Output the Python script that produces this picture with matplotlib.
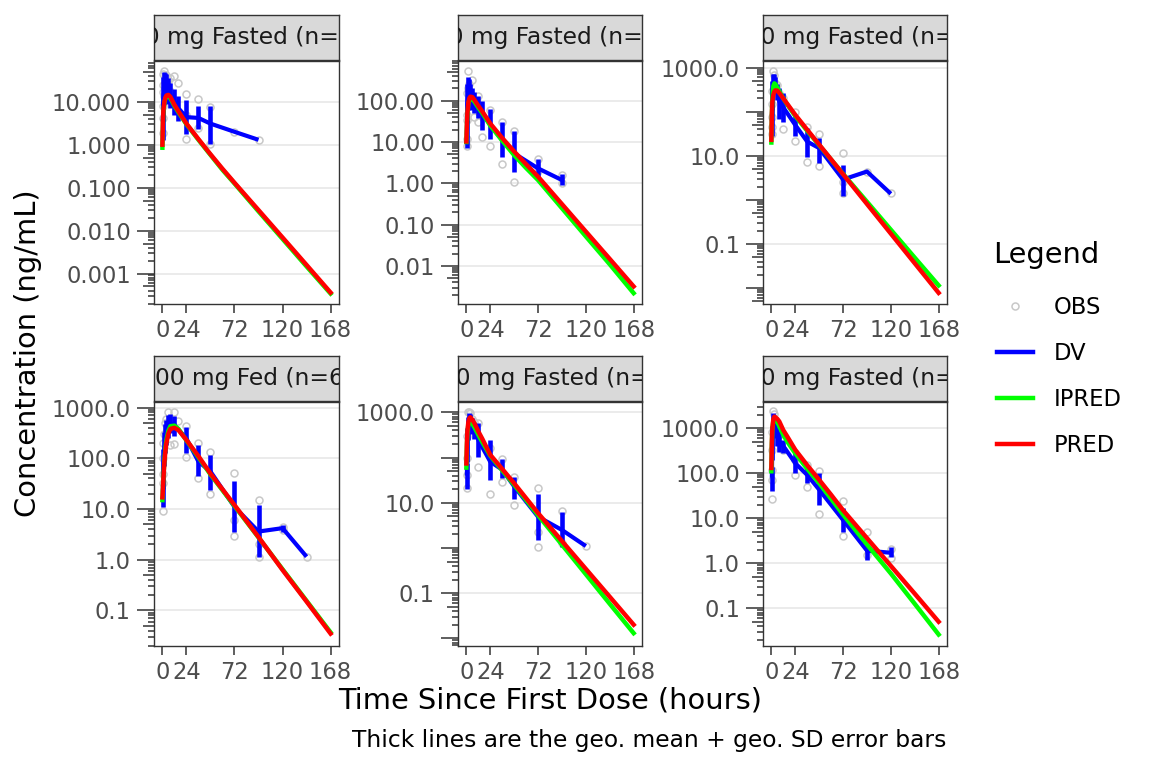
import numpy as np
import matplotlib.pyplot as plt
from matplotlib.lines import Line2D
from matplotlib.ticker import FixedLocator, FixedFormatter, NullLocator

# ---- data ----
panel_labels = ["10 mg Fasted (n=6)", "50 mg Fasted (n=6)", "100 mg Fasted (n=6)",
                "200 mg Fed (n=6)", "200 mg Fasted (n=6)", "400 mg Fasted (n=6)"]

# observed concentrations (grey circles)
obs_time = [
    [0.5, 0.5, 0.5, 1, 1, 1, 2, 2, 3, 4, 6, 8, 8, 12, 12, 16, 16, 24, 24, 24, 36, 36, 48, 48, 72, 96],
    [0.5, 0.5, 0.5, 1, 1, 2, 2, 3, 4, 6, 8, 8, 12, 12, 16, 24, 24, 36, 36, 48, 48, 72, 72, 96, 96],
    [0.5, 0.5, 0.5, 0.5, 1, 2, 3, 4, 6, 8, 12, 12, 24, 24, 36, 36, 48, 48, 72, 72, 72, 96, 120],
    [0.5, 0.5, 0.5, 1, 1, 2, 3, 4, 6, 8, 12, 12, 16, 24, 24, 36, 36, 48, 48, 72, 72, 72, 96, 96, 96, 120, 120, 144],
    [0.5, 0.5, 0.5, 1, 2, 3, 4, 6, 8, 12, 12, 24, 24, 36, 36, 48, 48, 72, 72, 72, 96, 96, 120],
    [0.5, 0.5, 0.5, 1, 1, 2, 3, 4, 6, 8, 12, 24, 24, 36, 36, 48, 48, 72, 72, 96, 96, 120, 120],
]
obs_conc = [
    [1.9, 4.1, 17, 8, 25, 45, 52, 14, 40, 43, 30, 35, 18, 40, 9, 28, 6, 15, 5, 1.33, 11.7, 2.5, 7.4, 1.05, 2.0, 1.3],
    [8, 12, 35, 45, 150, 520, 200, 260, 150, 316, 104, 40, 130, 31, 13.5, 60, 8.1, 30, 3.0, 18, 1.1, 3.8, 2.0, 1.6, 1.0],
    [32, 45, 77, 150, 300, 840, 680, 440, 400, 263, 41, 200, 100, 22, 44, 7.2, 31, 5.8, 11.5, 1.4, 2.5, 4.4, 1.4],
    [9, 32, 50, 100, 200, 300, 500, 600, 830, 183, 800, 190, 545, 435, 105, 200, 41, 135, 20, 52, 2.9, 6, 15, 1.15, 2, 4.5, 3.9, 1.15],
    [21, 41, 100, 300, 1000, 1030, 950, 700, 600, 590, 63, 160, 15.8, 91, 29, 38, 8.9, 21, 2.3, 1.05, 6.7, 1.26, 1.1],
    [27, 71, 120, 330, 800, 2350, 2100, 1500, 1000, 700, 330, 91, 200, 50, 150, 110, 12.3, 24, 4.0, 4.8, 1.5, 1.3, 2.1],
]

# geometric mean of DV with geo. SD error bar limits (nan = single value, no bar)
nan = np.nan
dv_time = [
    [0.5, 1, 2, 3, 4, 6, 8, 12, 16, 24, 36, 48, 72, 96],
    [0.5, 1, 2, 3, 4, 6, 8, 12, 16, 24, 36, 48, 72, 96],
    [0.5, 1, 2, 3, 4, 6, 8, 12, 24, 36, 48, 72, 96, 120],
    [0.5, 1, 2, 3, 4, 6, 8, 12, 24, 36, 48, 72, 96, 120, 144],
    [0.5, 1, 2, 3, 4, 6, 8, 12, 24, 36, 48, 72, 96, 120],
    [0.5, 1, 2, 3, 4, 6, 8, 12, 24, 36, 48, 72, 96, 120],
]
dv_mean = [
    [3.5, 12, 22, 24, 22, 18, 14, 10, 7, 4.4, 4.2, 3.1, 2.0, 1.3],
    [15, 80, 150, 160, 140, 110, 90, 70, 50, 26, 11, 5.3, 2.3, 1.2],
    [60, 250, 450, 500, 420, 280, 170, 125, 50, 21, 15, 2.9, 4.4, 1.38],
    [22, 60, 150, 260, 330, 420, 480, 450, 245, 86, 55, 11, 3.6, 4.2, 1.15],
    [40, 200, 500, 750, 700, 550, 420, 245, 81, 54, 23, 4.9, 2.5, 1.1],
    [80, 500, 1500, 1400, 1000, 700, 500, 400, 166, 91, 43, 9.1, 1.9, 1.7],
]
dv_low = [
    [1.3, 3.5, 9, 11, 10, 9, 7, 5, 3.6, 1.8, 2.3, 1.05, nan, nan],
    [7, 30, 60, 80, 75, 60, 50, 38, 20, 12, 4.4, 1.9, 1.45, 0.9],
    [28, 110, 280, 330, 290, 180, 70, 60, 28, 9.5, 6.8, 1.23, nan, nan],
    [11, 25, 70, 130, 180, 250, 320, 280, 126, 44, 24, 3.5, 1.15, 3.5, nan],
    [20, 80, 250, 450, 450, 330, 260, 105, 32, 35, 12, 1.5, 1.05, nan],
    [40, 200, 900, 800, 600, 400, 300, 280, 100, 60, 20, 5.0, 1.17, 1.35],
]
dv_high = [
    [10, 38, 50, 48, 45, 36, 28, 20, 14, 11, 7.8, 8.0, nan, nan],
    [35, 250, 380, 330, 260, 200, 160, 130, 100, 62, 31, 18, 3.8, 1.7],
    [150, 500, 700, 700, 600, 420, 340, 260, 85, 43, 25, 6.3, nan, nan],
    [40, 150, 330, 480, 560, 700, 750, 680, 407, 182, 117, 35, 12, 4.8, nan],
    [75, 450, 800, 950, 900, 750, 600, 575, 245, 95, 38, 15.5, 6.3, nan],
    [140, 1100, 2200, 2000, 1600, 1000, 850, 550, 275, 150, 100, 16.6, 2.5, 2.24],
]

# model predictions
pred_time = [0, 0.5, 1, 2, 3, 4, 6, 8, 12, 16, 24, 36, 48, 60, 72, 96, 120, 144, 168]
ipred_conc = [
    [0.85, 3.0, 6.0, 9.5, 12, 13, 13.5, 12, 8.0, 5.7, 3.0, 1.3, 0.58, 0.26, 0.125, 0.028, 0.0064, 0.00146, 0.00034],
    [10, 22, 45, 85, 105, 112, 108, 95, 68, 50, 25, 10.8, 4.8, 2.35, 1.2, 0.25, 0.052, 0.011, 0.0022],
    [20, 80, 200, 380, 440, 420, 350, 290, 200, 145, 80, 37, 17.5, 8.2, 3.9, 0.91, 0.211, 0.049, 0.0115],
    [15, 25, 42, 95, 160, 230, 350, 430, 440, 380, 225, 105, 48, 23.5, 11.5, 2.75, 0.65, 0.155, 0.037],
    [60, 170, 330, 540, 610, 620, 560, 470, 320, 220, 110, 52, 25, 11.5, 5.3, 1.18, 0.262, 0.058, 0.013],
    [110, 450, 950, 1500, 1650, 1600, 1350, 1100, 700, 500, 275, 125, 60, 27, 12, 2.6, 0.59, 0.125, 0.026],
]
pred_conc = [
    [1.0, 3.5, 6.5, 10, 12.5, 14, 14.5, 13, 8.5, 6.0, 3.1, 1.35, 0.6, 0.275, 0.13, 0.03, 0.0069, 0.00158, 0.00036],
    [10.3, 25, 50, 90, 115, 125, 122, 105, 75, 55, 28, 12.5, 5.9, 2.9, 1.45, 0.314, 0.068, 0.0148, 0.0032],
    [23, 90, 170, 240, 285, 305, 300, 265, 200, 150, 85, 39, 18, 8.3, 3.83, 0.81, 0.172, 0.0366, 0.0078],
    [17, 25, 40, 85, 140, 200, 310, 380, 400, 360, 230, 110, 50, 24.5, 12, 2.8, 0.63, 0.15, 0.035],
    [74, 200, 380, 620, 740, 780, 690, 580, 380, 260, 115, 56, 27, 12.6, 5.9, 1.42, 0.343, 0.083, 0.020],
    [130, 500, 1000, 1600, 1800, 1750, 1600, 1400, 900, 650, 330, 150, 71, 33, 15, 3.6, 0.87, 0.21, 0.050],
]

# y axis breaks / decimals / limits (log10) per panel
y_breaks = [
    [0.001, 0.01, 0.1, 1, 10],
    [0.01, 0.1, 1, 10, 100],
    [0.1, 10, 1000],
    [0.1, 1, 10, 100, 1000],
    [0.1, 10, 1000],
    [0.1, 1, 10, 100, 1000],
]
y_decimals = [3, 2, 1, 1, 1, 1]
y_log_limits = [(-3.71, 1.95), (-2.92, 2.96), (-2.36, 3.15), (-1.70, 3.11), (-2.17, 3.23), (-1.84, 3.58)]
x_breaks = [0, 24, 72, 120, 168]

# ---- layout (pixels) ----
W, H = 1152, 768
fig = plt.figure(figsize=(W / 100, H / 100), dpi=100)
px = 0.72  # points per pixel


def box(x0, y0, x1, y1):
    return [x0 / W, 1 - y1 / H, (x1 - x0) / W, (y1 - y0) / H]


cols = [(154, 339), (458, 642), (763, 947)]
rows = [((15, 59.5), (61, 304)), ((356, 400.5), (402, 646))]

dark = '#333333'
tick_txt = '#4d4d4d'
obs_col = '#c8c8c8'
small = 16.3
strip_size = 16.8
big = 20.8

for i in range(6):
    (sx0, sx1) = cols[i % 3]
    (sy, py) = rows[i // 3]
    rect = box(sx0, py[0], sx1, py[1])
    ax = fig.add_axes(rect)
    ax.set_yscale('log')
    lo, hi = y_log_limits[i]
    ax.set_ylim(10 ** lo, 10 ** hi)
    ax.set_xlim(-8.4, 176.4)

    ax.plot(obs_time[i], obs_conc[i], 'o', mfc='none', mec=obs_col, ms=7 * px, mew=1.1, zorder=2)
    ax.plot(dv_time[i], dv_mean[i], color='#0000ff', lw=3.0, zorder=3, solid_capstyle='butt')
    ax.vlines(dv_time[i], dv_low[i], dv_high[i], color='#0000ff', lw=3.3, zorder=3)
    ax.plot(pred_time, ipred_conc[i], color='#00ff00', lw=3.2, zorder=4)
    ax.plot(pred_time, pred_conc[i], color='#ff0000', lw=3.2, zorder=5)

    # labelled breaks + grid
    ax.yaxis.set_major_locator(FixedLocator(y_breaks[i]))
    ax.yaxis.set_major_formatter(FixedFormatter(['%.*f' % (y_decimals[i], b) for b in y_breaks[i]]))
    decades = np.arange(np.floor(lo), np.ceil(hi) + 1)
    short = [m * 10 ** d for d in decades for m in (2, 3, 4, 6, 7, 8, 9)]
    short = [v for v in short if 10 ** lo <= v <= 10 ** hi]
    ax.yaxis.set_minor_locator(FixedLocator(short))
    ax.tick_params(axis='y', which='major', length=0, pad=23 * px, labelsize=small, labelcolor=tick_txt)
    ax.tick_params(axis='y', which='minor', length=5.7 * px, width=1.1, color=dark, direction='out')
    ax.grid(True, axis='y', which='major', color='#ebebeb', lw=1.4)
    ax.set_axisbelow(True)

    ax.set_xticks(x_breaks)
    ax.set_xticklabels([str(b) for b in x_breaks])
    ax.xaxis.set_minor_locator(NullLocator())
    ax.tick_params(axis='x', length=9 * px, width=1.1, color=dark, pad=4.5, labelsize=small, labelcolor=tick_txt)
    for s in ax.spines.values():
        s.set_color(dark)
        s.set_linewidth(1.0)

    # log ticks: long at decades, mid at 5
    ov = fig.add_axes(rect, zorder=ax.get_zorder() + 1)
    ov.set_yscale('log')
    ov.set_ylim(10 ** lo, 10 ** hi)
    ov.patch.set_visible(False)
    for s in ov.spines.values():
        s.set_visible(False)
    ov.set_xticks([])
    longs = [10 ** d for d in decades if lo <= d <= hi]
    mids = [5 * 10 ** d for d in decades if 10 ** lo <= 5 * 10 ** d <= 10 ** hi]
    ov.yaxis.set_major_locator(FixedLocator(longs))
    ov.yaxis.set_minor_locator(FixedLocator(mids))
    ov.tick_params(axis='y', which='major', length=17 * px, width=1.1, color=dark, labelleft=False)
    ov.tick_params(axis='y', which='minor', length=11.3 * px, width=1.1, color=dark, labelleft=False)

    # facet strip
    sax = fig.add_axes(box(sx0, sy[0], sx1, sy[1]))
    sax.set_facecolor('#d9d9d9')
    sax.set_xticks([])
    sax.set_yticks([])
    for s in sax.spines.values():
        s.set_color(dark)
        s.set_linewidth(1.0)
    sax.text(0.5, 0.5, panel_labels[i], transform=sax.transAxes, ha='center', va='center',
             fontsize=strip_size, color='#1a1a1a', clip_on=True)

fig.text(550.5 / W, 1 - 700 / H, 'Time Since First Dose (hours)', ha='center', va='center', fontsize=big)
fig.text(28 / W, 1 - 353 / H, 'Concentration (ng/mL)', ha='center', va='center', rotation=90, fontsize=big)
fig.text(946 / W, 1 - 740 / H, 'Thick lines are the geo. mean + geo. SD error bars',
         ha='right', va='center', fontsize=strip_size)

fig.text(993 / W, 1 - 255 / H, 'Legend', ha='left', va='center', fontsize=big)
handles = [
    Line2D([], [], ls='none', marker='o', mfc='none', mec=obs_col, ms=7 * px, mew=1.1),
    Line2D([], [], color='#0000ff', lw=3.2),
    Line2D([], [], color='#00ff00', lw=3.2),
    Line2D([], [], color='#ff0000', lw=3.2),
]
fig.legend(handles, ['OBS', 'DV', 'IPRED', 'PRED'], loc='upper left',
           bbox_to_anchor=(988 / W, 1 - 287 / H), frameon=False,
           fontsize=small, handlelength=1.6, handletextpad=0.9,
           labelspacing=1.02, borderaxespad=0)

fig.savefig('out.png', dpi=100)
